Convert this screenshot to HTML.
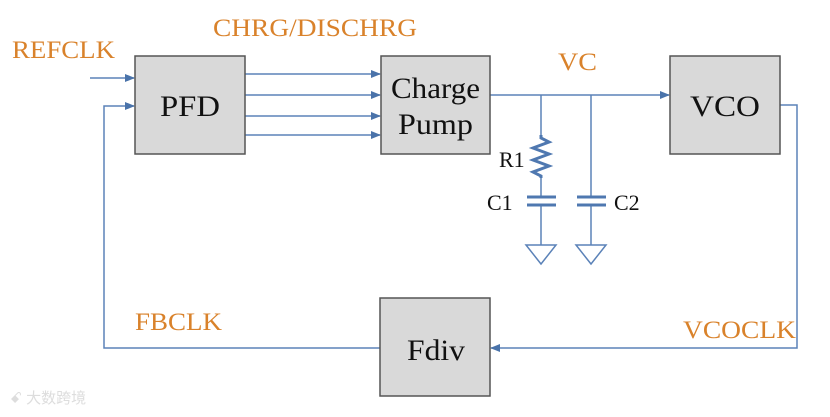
<!DOCTYPE html>
<html><head><style>body{margin:0;background:#fff}</style></head><body>
<svg width="830" height="412" xmlns="http://www.w3.org/2000/svg" font-family="Liberation Serif, serif">
<defs><marker id="a" markerWidth="10" markerHeight="10" refX="9" refY="5" orient="auto" markerUnits="userSpaceOnUse"><path d="M0,1 L10,5 L0,9 z" fill="#4a73aa"/></marker></defs>
<g stroke="#5b82b8" stroke-width="1.5" fill="none">
<line x1="90" y1="78" x2="134" y2="78" marker-end="url(#a)"/>
<line x1="245" y1="74" x2="380" y2="74" marker-end="url(#a)"/>
<line x1="245" y1="95" x2="380" y2="95" marker-end="url(#a)"/>
<line x1="245" y1="116" x2="380" y2="116" marker-end="url(#a)"/>
<line x1="245" y1="135" x2="380" y2="135" marker-end="url(#a)"/>
<line x1="490" y1="95" x2="669" y2="95" marker-end="url(#a)"/>
<polyline points="780,105 797,105 797,348 491,348" marker-end="url(#a)"/>
<polyline points="380,348 104,348 104,106 134,106" marker-end="url(#a)"/>
<line x1="541" y1="95" x2="541" y2="135"/>
<line x1="541" y1="178" x2="541" y2="197"/>
<line x1="541" y1="205" x2="541" y2="245"/>
<line x1="591" y1="95" x2="591" y2="197"/>
<line x1="591" y1="205" x2="591" y2="245"/>
</g>
<g stroke="#4f78b0" stroke-width="3" fill="none">
<polyline points="541,135 541,138 549,142 533,148 549,154 533,160 549,166 533,172 541,176 541,178"/>
<line x1="527" y1="197" x2="556" y2="197"/><line x1="527" y1="205" x2="556" y2="205"/>
<line x1="577" y1="197" x2="606" y2="197"/><line x1="577" y1="205" x2="606" y2="205"/>
</g>
<g stroke="#5b82b8" stroke-width="1.5" fill="none">
<path d="M526,245 L556,245 L541,264 z"/><path d="M576,245 L606,245 L591,264 z"/>
</g>
<g fill="#d9d9d9" stroke="#555" stroke-width="1.5">
<rect x="135" y="56" width="110" height="98"/>
<rect x="381" y="56" width="109" height="98"/>
<rect x="670" y="56" width="110" height="98"/>
<rect x="380" y="298" width="110" height="98"/>
</g>
<g font-size="30" fill="#111">
<text x="160" y="116" textLength="60" lengthAdjust="spacingAndGlyphs">PFD</text>
<text x="391" y="98" textLength="89" lengthAdjust="spacingAndGlyphs">Charge</text>
<text x="398" y="134" textLength="75" lengthAdjust="spacingAndGlyphs">Pump</text>
<text x="690" y="116" textLength="70" lengthAdjust="spacingAndGlyphs">VCO</text>
<text x="407" y="360" textLength="58" lengthAdjust="spacingAndGlyphs">Fdiv</text>
</g>
<g font-size="22" fill="#111">
<text x="499" y="167">R1</text><text x="487" y="210">C1</text><text x="614" y="210">C2</text>
</g>
<g font-size="25" fill="#d9822b">
<text x="12" y="58" textLength="103" lengthAdjust="spacingAndGlyphs">REFCLK</text>
<text x="213" y="36" textLength="204" lengthAdjust="spacingAndGlyphs">CHRG/DISCHRG</text>
<text x="558" y="70" textLength="39" lengthAdjust="spacingAndGlyphs">VC</text>
<text x="135" y="330" textLength="87" lengthAdjust="spacingAndGlyphs">FBCLK</text>
<text x="683" y="338" textLength="113" lengthAdjust="spacingAndGlyphs">VCOCLK</text>
</g>
<text x="10" y="403" font-size="15" fill="#ddd" font-family="Liberation Sans, Noto Sans CJK SC, sans-serif">ꗃ 大数跨境</text>
</svg>
</body></html>
